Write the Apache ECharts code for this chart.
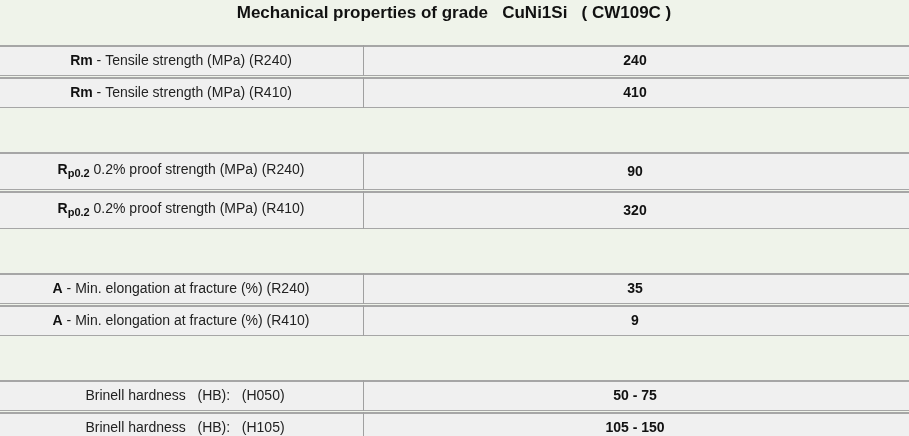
<!DOCTYPE html>
<html><head><meta charset="utf-8">
<script src="https://cdn.jsdelivr.net/npm/echarts@6/dist/echarts.min.js"></script>
<style>html,body{margin:0;padding:0;background:#eff3ea}#c{width:909px;height:436px}</style>
</head><body><div id="c"></div>
<script>
const title = 'Mechanical properties of grade   CuNi1Si   ( CW109C )';
const symbols = ['Rm', 'Rm', 'R|p0.2', 'R|p0.2', 'A', 'A', '', ''];
const labels = [' - Tensile strength (MPa) (R240)', ' - Tensile strength (MPa) (R410)',
  ' 0.2% proof strength (MPa) (R240)', ' 0.2% proof strength (MPa) (R410)',
  ' - Min. elongation at fracture (%) (R240)', ' - Min. elongation at fracture (%) (R410)',
  'Brinell hardness   (HB):   (H050)', 'Brinell hardness   (HB):   (H105)'];
const values = ['240', '410', '90', '320', '35', '9', '50 - 75', '105 - 150'];

const W = 909, split = 363, font = 'Arial, "Liberation Sans", sans-serif';
const els = [];
els.push({type:'rect', shape:{x:0,y:0,width:W,height:436}, style:{fill:'#eff3ea'}});
els.push({type:'text', x:454, y:13, style:{text:title, font:'bold 17px '+font, fill:'#111', align:'center', verticalAlign:'middle'}});
let y = 45;
for (let i = 0; i < labels.length; i++) {
  const sub = symbols[i].includes('|');
  const h = sub ? 38 : 31;
  els.push({type:'rect', shape:{x:0,y:y,width:W,height:h}, style:{fill:'#f0f0f0'}});
  els.push({type:'rect', shape:{x:0,y:y,width:W,height:2}, style:{fill:'#a6a6a6'}});
  els.push({type:'rect', shape:{x:0,y:y+h-1,width:W,height:1}, style:{fill:'#a6a6a6'}});
  els.push({type:'rect', shape:{x:split,y:y,width:1,height:h}, style:{fill:'#a0a0a0'}});
  const cy = y + h/2 + 1;
  let txt, rich = {
    b:{font:'bold 14px '+font, fill:'#111'},
    s:{font:'bold 11px '+font, fill:'#111', padding:[8,0,0,0]},
    n:{font:'14px '+font, fill:'#222'}
  };
  if (sub) {
    const p = symbols[i].split('|');
    txt = '{b|'+p[0]+'}{s|'+p[1]+'}{n|'+labels[i]+'}';
  } else if (symbols[i]) {
    txt = '{b|'+symbols[i]+'}{n|'+labels[i]+'}';
  } else {
    txt = '{n|'+labels[i]+'}';
  }
  els.push({type:'text', x: symbols[i] ? 181 : 185, y: sub ? cy - 2 : cy, style:{text:txt, rich:rich, align:'center', verticalAlign:'middle'}});
  els.push({type:'text', x:635, y:cy, style:{text:values[i], font:'bold 14px '+font, fill:'#111', align:'center', verticalAlign:'middle'}});
  y += h + 1;
  if (i % 2 === 1) y += 43;
}
const chart = echarts.init(document.getElementById('c'));
chart.setOption({animation:false, graphic:{elements:els}});
</script></body></html>
